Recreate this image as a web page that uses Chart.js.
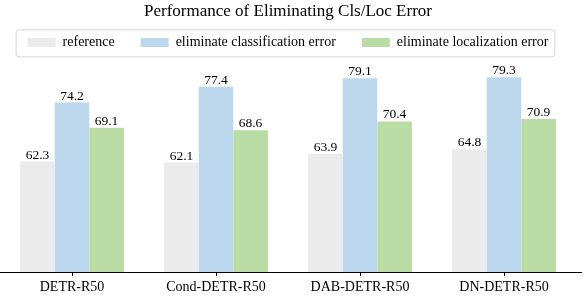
<!DOCTYPE html>
<html>
<head>
<meta charset="utf-8">
<script src="https://cdn.jsdelivr.net/npm/chart.js@4.4.1/dist/chart.umd.min.js"></script>
<style>
  html, body { margin: 0; padding: 0; background: #fff; }
  #wrap { width: 586px; height: 299px; }
</style>
</head>
<body>
<div id="wrap"><canvas id="perfChart" width="586" height="299"></canvas></div>
<script>
const models = ["DETR-R50", "Cond-DETR-R50", "DAB-DETR-R50", "DN-DETR-R50"];
const reference = [62.3, 62.1, 63.9, 64.8];
const elimCls = [74.2, 77.4, 79.1, 79.3];
const elimLoc = [69.1, 68.6, 70.4, 70.9];

const SERIF = "'Liberation Serif', 'Times New Roman', serif";

// value labels above each bar
const barLabels = {
    id: "barLabels",
    afterDatasetsDraw(chart) {
        const ctx = chart.ctx;
        ctx.save();
        ctx.font = "13.5px " + SERIF;
        ctx.fillStyle = "#000";
        ctx.textAlign = "center";
        ctx.textBaseline = "alphabetic";
        chart.data.datasets.forEach((ds, i) => {
            chart.getDatasetMeta(i).data.forEach((bar, j) => {
                ctx.fillText(ds.data[j].toFixed(1), bar.x, bar.y - 3);
            });
        });
        ctx.restore();
    }
};

// legend frame + full width baseline
const extras = {
    id: "extras",
    afterDraw(chart) {
        const ctx = chart.ctx;
        const boxes = chart.legend.legendHitBoxes;
        if (boxes && boxes.length) {
            const first = boxes[0];
            const last = boxes[boxes.length - 1];
            const x0 = first.left - 12;
            const x1 = last.left + last.width + 6;
            const y0 = first.top - 6;
            const y1 = first.top + first.height + 7;
            ctx.save();
            ctx.strokeStyle = "#d6d6d6";
            ctx.lineWidth = 1;
            ctx.beginPath();
            ctx.roundRect(x0 + 0.5, y0 + 0.5, x1 - x0, y1 - y0, 3);
            ctx.stroke();
            ctx.restore();
        }
        const y = Math.round(chart.chartArea.bottom) + 0.5;
        ctx.save();
        ctx.strokeStyle = "#000";
        ctx.lineWidth = 1;
        ctx.beginPath();
        ctx.moveTo(0, y);
        ctx.lineTo(582, y);
        ctx.stroke();
        ctx.restore();
    }
};

new Chart(document.getElementById("perfChart"), {
    type: "bar",
    data: {
        labels: models,
        datasets: [
            { label: "reference", data: reference, backgroundColor: "#ebebeb" },
            { label: "eliminate classification error", data: elimCls, backgroundColor: "#bdd7ee" },
            { label: "eliminate localization error", data: elimLoc, backgroundColor: "#b9dba4" }
        ]
    },
    options: {
        responsive: false,
        animation: false,
        layout: { padding: { left: 0, right: 10, top: 0, bottom: 0 } },
        datasets: {
            bar: { categoryPercentage: 0.72, barPercentage: 1.0 }
        },
        plugins: {
            title: {
                display: true,
                text: "Performance of Eliminating Cls/Loc Error",
                color: "#000",
                font: { family: SERIF, size: 17, weight: "normal" },
                padding: { top: 1, bottom: -12 }
            },
            legend: {
                display: true,
                position: "top",
                labels: {
                    color: "#000",
                    font: { family: SERIF, size: 14 },
                    boxWidth: 28,
                    boxHeight: 9,
                    padding: 26
                }
            },
            tooltip: { enabled: false }
        },
        scales: {
            x: {
                grid: { display: true, drawOnChartArea: false, offset: false, color: "#000", tickLength: 4 },
                border: { display: false },
                ticks: { color: "#000", font: { family: SERIF, size: 14 }, padding: 3 }
            },
            y: {
                display: false,
                min: 40,
                max: 82.9
            }
        }
    },
    plugins: [barLabels, extras]
});
</script>
</body>
</html>
